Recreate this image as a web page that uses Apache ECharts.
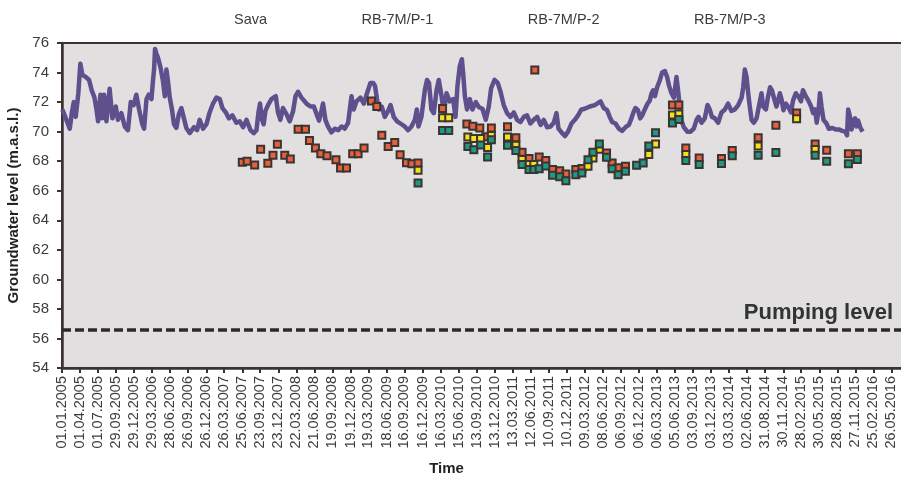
<!DOCTYPE html>
<html>
<head>
<meta charset="utf-8">
<script src="https://cdn.jsdelivr.net/npm/echarts@6/dist/echarts.min.js"></script>
<style>
html,body{margin:0;padding:0;background:#fff;}
#chart{width:901px;height:477px;}
</style>
</head>
<body>
<div id="chart"></div>
<script>
// x positions are days since 01.01.2005
const tickLabels = ['01.01.2005','01.04.2005','01.07.2005','29.09.2005','29.12.2005','29.03.2006','28.06.2006','26.09.2006','26.12.2006','26.03.2007','25.06.2007','23.09.2007','23.12.2007','22.03.2008','21.06.2008','19.09.2008','19.12.2008','19.03.2009','18.06.2009','16.09.2009','16.12.2009','16.03.2010','15.06.2010','13.09.2010','13.12.2010','13.03.2011','12.06.2011','10.09.2011','10.12.2011','09.03.2012','08.06.2012','06.09.2012','06.12.2012','06.03.2013','05.06.2013','03.09.2013','03.12.2013','03.03.2014','02.06.2014','31.08.2014','30.11.2014','28.02.2015','30.05.2015','28.08.2015','27.11.2015','25.02.2016','26.05.2016'];

const seriesNames = ['Sava','RB-7M/P-1','RB-7M/P-2','RB-7M/P-3'];
const pumpingLevel = 56.6;

const savaDay = [2,22,39,49,59,69,82,92,102,119,136,149,163,173,181,193,201,211,223,239,253,270,281,298,315,331,345,360,373,387,403,412,424,435,449,457,462,467,473,482,495,507,516,524,532,541,552,562,574,586,599,612,624,641,663,678,691,708,725,741,758,775,792,805,822,838,855,875,892,909,926,946,962,976,986,994,1002,1012,1021,1034,1051,1073,1084,1096,1109,1126,1143,1160,1172,1185,1202,1227,1247,1264,1280,1290,1302,1310,1322,1335,1352,1369,1386,1403,1419,1436,1453,1464,1478,1498,1515,1531,1548,1562,1571,1581,1591,1605,1620,1637,1649,1665,1682,1704,1720,1737,1754,1771,1781,1789,1804,1821,1832,1842,1854,1866,1880,1891,1905,1916,1930,1946,1963,1975,1985,1996,2007,2013,2022,2033,2047,2060,2077,2093,2110,2127,2142,2154,2171,2187,2201,2217,2234,2251,2268,2284,2301,2318,2334,2351,2368,2385,2402,2418,2435,2452,2468,2482,2492,2507,2524,2540,2557,2574,2590,2607,2624,2649,2674,2703,2719,2736,2749,2761,2778,2795,2811,2828,2845,2858,2868,2878,2891,2902,2912,2925,2939,2950,2959,2967,2976,2987,3001,3012,3026,3037,3047,3059,3071,3084,3092,3101,3110,3121,3138,3155,3171,3185,3195,3210,3226,3240,3251,3262,3277,3293,3310,3327,3343,3360,3377,3394,3411,3419,3427,3436,3444,3452,3461,3472,3486,3499,3511,3519,3533,3544,3554,3563,3573,3586,3594,3603,3611,3621,3633,3644,3659,3669,3683,3696,3709,3719,3733,3748,3760,3770,3780,3788,3797,3804,3812,3822,3837,3849,3866,3883,3899,3916,3931,3940,3946,3955,3963,3971,3980,3988,3996,4006,4018];
const savaLevel = [71.5,70.8,70.2,71.25,72.0,71.0,72.6,74.6,73.85,73.7,73.5,72.8,72.3,71.5,70.7,72.5,70.9,72.5,70.7,72.9,70.9,71.7,70.8,71.25,70.35,70.1,72.0,71.8,72.5,71.5,70.5,70.2,72.2,72.5,72.2,73.5,74.2,75.6,75.3,75.0,74.3,73.4,72.4,74.2,73.4,72.3,71.5,70.5,70.25,71.15,71.6,70.9,70.25,69.9,70.3,70.1,70.8,70.2,70.5,71.3,71.9,72.3,72.2,71.6,71.3,70.9,71.1,70.6,70.7,70.3,70.8,70.1,69.9,70.1,71.3,71.9,70.9,70.5,71.4,71.8,72.2,72.4,71.3,70.8,71.6,71.2,70.7,71.4,72.4,72.7,72.3,71.9,71.7,71.7,71.1,70.75,71.4,71.9,70.8,70.35,69.95,70.2,70.1,70.35,70.2,70.6,72.4,71.5,72.05,72.3,71.9,72.6,73.3,73.3,73.1,72.2,71.5,71.7,71.0,71.4,71.8,71.0,70.7,70.5,70.35,70.1,70.35,70.8,71.5,70.35,71.0,72.8,73.5,73.3,71.5,71.25,72.8,73.5,72.4,71.25,72.6,72.05,72.2,71.0,73.1,74.4,74.9,74.0,72.4,71.5,72.2,71.5,72.0,71.65,71.55,70.8,71.7,72.95,73.5,73.3,72.7,71.8,71.25,71.0,71.3,70.8,70.65,71.0,71.1,70.55,70.8,71.0,70.45,70.8,70.3,70.35,70.6,71.25,70.2,69.95,69.7,70.0,70.55,70.8,71.1,71.5,71.55,71.7,71.8,72.05,71.6,71.45,71.0,70.65,70.55,70.2,70.05,70.3,70.45,70.9,71.3,71.6,71.45,70.9,71.1,71.5,71.9,72.1,72.6,72.8,72.4,73.0,73.5,74.0,74.1,73.7,73.1,72.6,72.3,73.7,72.8,71.6,70.7,70.3,70.0,70.0,70.2,70.8,71.0,70.6,70.9,71.8,71.5,71.0,70.9,70.6,71.3,71.5,71.9,71.4,71.5,71.8,72.3,73.0,74.2,73.7,72.6,71.7,70.8,70.6,70.9,71.8,72.6,71.7,71.5,72.4,73.0,72.8,72.3,71.7,72.1,72.6,72.2,71.45,71.9,71.7,71.3,72.1,72.6,72.4,72.05,72.8,72.4,72.05,71.7,71.25,71.5,70.6,71.4,72.6,71.7,70.8,70.55,70.2,70.25,70.15,70.15,70.05,70.0,69.75,71.5,71.0,70.15,70.75,70.9,70.35,70.75,70.3,70.0];

const p1Day = [905,929,967,997,1033,1059,1081,1118,1146,1185,1222,1242,1272,1299,1330,1375,1398,1428,1459,1486,1516,1553,1580,1605,1637,1670,1697,1729,1756,1787,1910,2032,2062,2097,2127,2155,2236,2278,2309,2344,2373,2395,2428,2462,2498,2529,2579,2610,2733,2761,2791,2828,3064,3096,3131,3198,3310,3364,3494,3583,3687,3780,3838,3947,3992];
const p1Level = [67.93,68.0,67.75,68.8,67.86,68.4,69.15,68.4,68.14,70.17,70.17,69.4,68.9,68.5,68.37,68.09,67.54,67.54,68.5,68.5,68.9,72.08,71.7,69.75,69.0,69.27,68.44,67.9,67.82,67.87,71.57,70.52,70.36,70.25,69.66,70.25,70.33,69.58,68.61,68.18,74.17,68.29,68.04,67.43,67.36,67.14,67.43,67.5,68.56,67.88,67.55,67.66,71.8,71.8,68.9,68.22,68.18,68.73,69.58,70.44,71.27,69.17,68.74,68.5,68.5];

const p2Day = [1787,1910,1941,2037,2067,2101,2136,2155,2236,2278,2309,2344,2368,2640,2665,2697,2945,2979,3064,3096,3131,3494,3687,3780];
const p2Level = [67.39,70.94,70.94,69.63,69.53,69.53,68.92,69.74,69.63,69.08,68.11,67.77,67.77,67.65,68.21,68.8,68.45,69.17,71.12,71.2,68.45,69.02,70.87,68.79];

const p3Day = [1787,1910,1941,2037,2067,2101,2136,2155,2236,2278,2309,2344,2368,2395,2428,2462,2498,2529,2579,2609,2640,2665,2697,2733,2761,2791,2828,2884,2917,2945,2979,3064,3096,3131,3198,3310,3364,3494,3583,3780,3838,3947,3992];
const p3Level = [66.53,70.08,70.08,69.0,68.78,69.09,68.28,69.45,69.08,68.72,67.77,67.43,67.43,67.48,67.68,67.05,66.94,66.68,67.09,67.2,68.1,68.6,69.17,68.27,67.48,67.09,67.32,67.73,67.88,69.02,69.92,70.58,70.82,68.04,67.77,67.84,68.37,68.41,68.58,68.41,68.0,67.82,68.11];

const START = Date.UTC(2005, 0, 1);
function dayOf(s) {
  const p = s.split('.').map(Number);
  return Math.round((Date.UTC(p[2], p[1] - 1, p[0]) - START) / 86400000);
}
const tickDays = tickLabels.map(dayOf);
const labelByDay = {};
tickDays.forEach((d, i) => { labelByDay[d] = tickLabels[i]; });
const zip = (a, b) => a.map((v, i) => [v, b[i]]);

const FONT = '"Liberation Sans", Arial, sans-serif';
const DARK = '#3a3332';
const TXT = '#3c3c3c';
const scatterBase = (name, color, days, lv) => ({
  name: name, type: 'scatter', data: zip(days, lv),
  symbol: 'rect', symbolSize: 7,
  itemStyle: { color: color, borderColor: '#3b3432', borderWidth: 2, opacity: 1 },
  z: 3
});

const chart = echarts.init(document.getElementById('chart'), null, { renderer: 'canvas' });
chart.setOption({
  animation: false,
  backgroundColor: '#ffffff',
  textStyle: { fontFamily: FONT },
  legend: {
    data: seriesNames,
    left: 199, top: 7,
    itemWidth: 25, itemHeight: 12, itemGap: 63.5,
    icon: 'rect',
    itemStyle: { opacity: 0 },
    lineStyle: { opacity: 0 },
    selectedMode: false,
    textStyle: { fontSize: 14.5, color: TXT, fontFamily: FONT }
  },
  grid: {
    left: 62, top: 43, right: -2, bottom: 109,
    containLabel: false, outerBoundsMode: 'none',
    show: true, backgroundColor: '#e1dfe0', borderColor: DARK, borderWidth: 2
  },
  xAxis: {
    type: 'value', min: 0, max: 4221,
    name: 'Time', nameLocation: 'middle', nameGap: 93,
    nameTextStyle: { fontSize: 15, fontWeight: 'bold', color: '#222', fontFamily: FONT, padding: [0, 72, 0, 0] },
    axisLine: { show: true, onZero: false, lineStyle: { color: DARK, width: 2.5 } },
    axisTick: { show: true, customValues: tickDays, length: 5, lineStyle: { color: DARK, width: 2 } },
    axisLabel: {
      customValues: tickDays, rotate: 90, margin: 8,
      fontSize: 14.5, color: TXT, fontFamily: FONT,
      formatter: v => labelByDay[Math.round(v)] || ''
    },
    splitLine: { show: false }
  },
  yAxis: {
    type: 'value', min: 54, max: 76, interval: 2,
    name: 'Groundwater level (m.a.s.l.)', nameLocation: 'middle', nameGap: 40,
    nameTextStyle: { fontSize: 15, fontWeight: 'bold', color: '#222', fontFamily: FONT },
    axisLine: { show: true, lineStyle: { color: DARK, width: 2.5 } },
    axisTick: { show: true, length: 5, lineStyle: { color: DARK, width: 2 } },
    axisLabel: { fontSize: 15, color: TXT, margin: 13, fontFamily: FONT },
    splitLine: { show: false }
  },
  series: [
    {
      name: seriesNames[0], type: 'line', data: zip(savaDay, savaLevel),
      showSymbol: false, symbol: 'none',
      lineStyle: { color: '#5f4f8c', width: 4.5, join: 'round' },
      itemStyle: { color: '#5f4f8c' },
      z: 2,
      markLine: {
        silent: true, symbol: 'none',
        data: [{ yAxis: pumpingLevel }],
        lineStyle: { color: '#2f2a2a', width: 3.5, type: [9, 4] },
        label: {
          show: true, position: 'insideEndTop', formatter: 'Pumping level',
          fontSize: 22, fontWeight: 'bold', color: '#333', fontFamily: FONT,
          distance: 6, padding: [0, 4, 0, 0]
        }
      }
    },
    scatterBase(seriesNames[1], '#e8603c', p1Day, p1Level),
    scatterBase(seriesNames[2], '#f4e31c', p2Day, p2Level),
    scatterBase(seriesNames[3], '#1f9984', p3Day, p3Level)
  ]
});
</script>
</body>
</html>
